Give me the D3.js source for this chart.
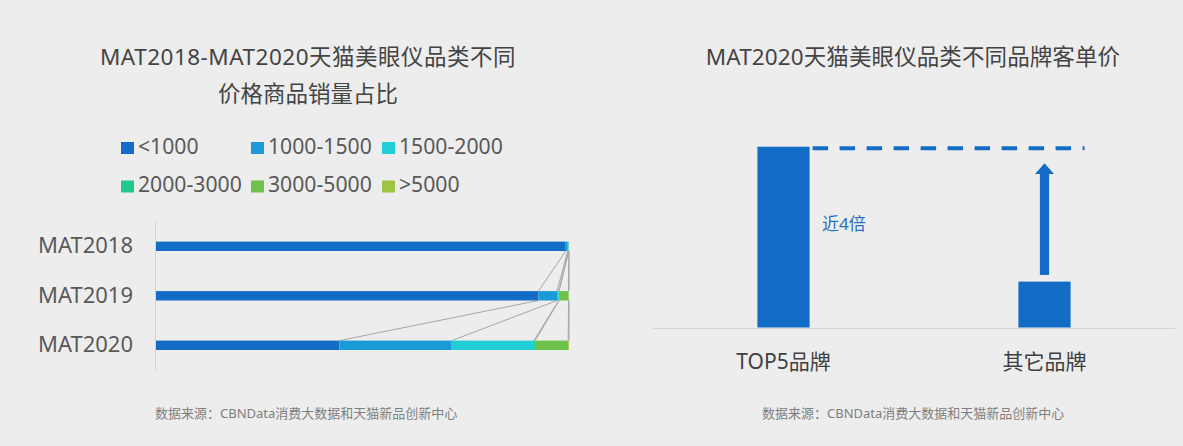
<!DOCTYPE html>
<html><head><meta charset="utf-8">
<script src="https://cdn.jsdelivr.net/npm/d3@7/dist/d3.min.js"></script>
<style>
html,body{margin:0;padding:0;background:#ededed;}
svg{display:block;font-family:"Noto Sans","Noto Sans CJK SC",sans-serif;}
</style></head>
<body><svg id="c" width="1183" height="446"></svg>
<script>
// ---- data ----
const periods = ["MAT2018", "MAT2019", "MAT2020"];
const priceBands = ["<1000", "1000-1500", "1500-2000", "2000-3000", "3000-5000", ">5000"];
const share2018 = [99.2, 0.5, 0.2, 0.03, 0.04, 0.03];
const share2019 = [92.6, 4.5, 0.4, 0.1, 2.3, 0.1];
const share2020 = [44.4, 27.2, 19.9, 0.3, 8.0, 0.2];
const bandColors = ["#136dc6", "#1b9ad8", "#22cdd8", "#22c98f", "#6cc24a", "#9cc544"];
const brands = ["TOP5品牌", "其它品牌"];
const brandPrice = [3.94, 1]; // relative unit price (≈4x)
const leftTitle = ["MAT2018-MAT2020天猫美眼仪品类不同", "价格商品销量占比"];
const rightTitle = "MAT2020天猫美眼仪品类不同品牌客单价";
const sourceNote = "数据来源：CBNData消费大数据和天猫新品创新中心";
const ratioLabel = "近4倍";

const svg = d3.select("#c");
const blue = "#136dc6";

// ---- left chart ----
svg.selectAll("text.lt").data(leftTitle).join("text")
  .attr("x", 308).attr("y", (d, i) => 64.5 + i * 37)
  .attr("text-anchor", "middle").attr("font-size", 22.5).attr("letter-spacing", (d, i) => i === 0 ? 0.5 : 0)
  .attr("fill", "#444").text(d => d);

// legend
const legPos = [[121,153.5],[251,153.5],[382,153.5],[121,192],[251,192],[382,192]];
const leg = svg.append("g");
priceBands.forEach((b, i) => {
  const [lx, ly] = legPos[i];
  leg.append("rect").attr("x", lx).attr("y", ly - 11.5).attr("width", 13).attr("height", 12).attr("fill", bandColors[i]);
  leg.append("text").attr("x", lx + 17).attr("y", ly).attr("font-size", 21.2).attr("fill", "#595959").text(b);
});

const rows = [share2018, share2019, share2020].map((arr, i) => {
  const o = { period: periods[i] };
  priceBands.forEach((b, j) => o[b] = arr[j]);
  return o;
});
const stack = d3.stack().keys(priceBands)(rows);

const x = d3.scaleLinear().domain([0, 100]).range([156, 569]);
const y = d3.scaleBand().domain(periods).range([221.6, 370]).paddingInner(0.81).paddingOuter(0.404);
const bh = y.bandwidth();

// series lines
const lines = svg.append("g").attr("stroke", "#a6a6a6").attr("stroke-width", 1);
stack.forEach(s => {
  for (let i = 0; i < s.length - 1; i++) {
    lines.append("line")
      .attr("x1", x(s[i][1])).attr("y1", y(periods[i]) + bh)
      .attr("x2", x(s[i + 1][1])).attr("y2", y(periods[i + 1]));
  }
});

svg.append("g").selectAll("g").data(stack).join("g")
  .attr("fill", (d, i) => bandColors[i])
  .selectAll("rect").data(d => d).join("rect")
  .attr("x", d => x(d[0])).attr("width", d => Math.max(0, x(d[1]) - x(d[0])))
  .attr("y", d => y(d.data.period)).attr("height", bh);

const yAxis = svg.append("g").attr("transform", "translate(155,0)")
  .call(d3.axisLeft(y).tickSize(0).tickSizeOuter(0).tickPadding(22));
yAxis.select(".domain").attr("stroke", "#d4d4d4");
yAxis.selectAll("text").attr("font-size", 22).attr("fill", "#595959")
  .attr("font-family", '"Noto Sans","Noto Sans CJK SC",sans-serif');

svg.append("text").attr("x", 155).attr("y", 418).attr("font-size", 13).attr("fill", "#7f7f7f").text(sourceNote);

// ---- right chart ----
svg.append("text").attr("x", 913).attr("y", 64.5).attr("text-anchor", "middle")
  .attr("font-size", 22.5).attr("letter-spacing", 0.1).attr("fill", "#444").text(rightTitle);

const xb = d3.scaleBand().domain(brands).range([653, 1175]);
const yb = d3.scaleLinear().domain([0, brandPrice[0]]).range([327.5, 146.7]);
const bw = xb.bandwidth() * 0.2;
const cx = b => xb(b) + xb.bandwidth() / 2;

const xAxis = svg.append("g").attr("transform", "translate(0,328)")
  .call(d3.axisBottom(xb).tickSize(0).tickSizeOuter(0).tickPadding(26));
xAxis.select(".domain").attr("stroke", "#d4d4d4");
xAxis.selectAll("text").attr("font-size", 21).attr("fill", "#404040")
  .attr("font-family", '"Noto Sans","Noto Sans CJK SC",sans-serif');

svg.append("g").selectAll("rect").data(brands).join("rect")
  .attr("x", d => cx(d) - bw / 2).attr("width", bw)
  .attr("y", (d, i) => yb(brandPrice[i])).attr("height", (d, i) => yb(0) - yb(brandPrice[i]))
  .attr("fill", blue);

// dashed reference line
const topY = yb(brandPrice[0]) + 1.5;
svg.append("line")
  .attr("x1", cx(brands[0]) + bw / 2 + 3).attr("x2", cx(brands[1]) + bw / 2 + 14)
  .attr("y1", topY).attr("y2", topY)
  .attr("stroke", blue).attr("stroke-width", 4).attr("stroke-dasharray", "15.5,11.5");

// arrow
const ax = cx(brands[1]);
const shaftBottom = yb(brandPrice[1]) - 6.7;
const headBase = yb(brandPrice[0]) + 27.3;
const headTip = yb(brandPrice[0]) + 16.6;
svg.append("rect").attr("x", ax - 4.6).attr("width", 9.2).attr("y", headBase - 1).attr("height", shaftBottom - headBase + 1).attr("fill", blue);
svg.append("path").attr("d", `M${ax - 9.5},${headBase}L${ax},${headTip}L${ax + 9.5},${headBase}Z`).attr("fill", blue);

svg.append("text").attr("x", 822).attr("y", 230).attr("font-size", 17).attr("fill", "#2a70be").text(ratioLabel);

svg.append("text").attr("x", 762).attr("y", 418).attr("font-size", 13).attr("fill", "#7f7f7f").text(sourceNote);
</script></body></html>
